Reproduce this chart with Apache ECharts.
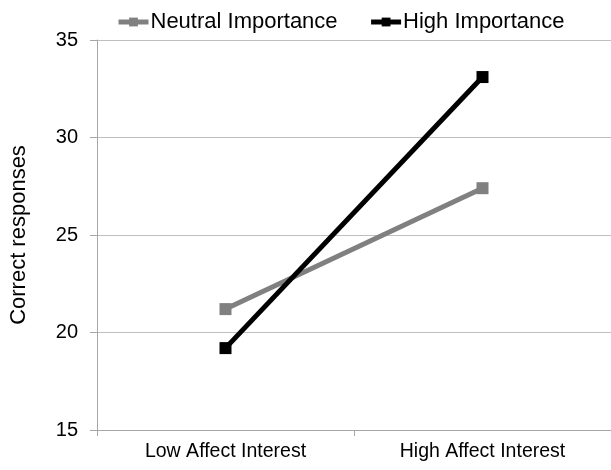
<!DOCTYPE html>
<html><head><meta charset="utf-8">
<script src="https://cdn.jsdelivr.net/npm/echarts@6/dist/echarts.min.js"></script>
<style>html,body{margin:0;padding:0;background:#fff}#c{width:611px;height:470px}</style>
</head><body><div id="c"></div>
<script>
const categories = ["Low Affect Interest", "High Affect Interest"];
const neutralImportance = [21.2, 27.4];
const highImportance = [19.2, 33.1];
const yTicks = [15, 20, 25, 30, 35];

const chart = echarts.init(document.getElementById('c'));
const font = "'Liberation Sans', Arial, sans-serif";
chart.setOption({
  animation: false,
  textStyle: { fontFamily: font },
  legend: {
    top: 6, left: 111,
    itemWidth: 30, itemHeight: 11, itemGap: 31,
    lineStyle: { width: 5 },
    textStyle: { fontSize: 22, color: '#000', fontFamily: font, padding: [0,0,0,-3] },
    data: ['Neutral Importance', 'High Importance']
  },
  grid: { left: 97, right: 0, top: 40, bottom: 40 },
  xAxis: {
    type: 'category', data: categories, boundaryGap: true,
    axisLine: { lineStyle: { color: '#a6a6a6', width: 1 } },
    axisTick: { show: true, length: 6, lineStyle: { color: '#a6a6a6' } },
    axisLabel: { fontSize: 19.5, color: '#000', margin: 12, fontFamily: font }
  },
  yAxis: {
    type: 'value', min: yTicks[0], max: yTicks[yTicks.length-1], interval: 5,
    name: 'Correct responses', nameLocation: 'middle', nameGap: 67,
    nameTextStyle: { fontSize: 22, color: '#000', fontFamily: font },
    axisLine: { show: true, lineStyle: { color: '#a6a6a6' } },
    axisTick: { show: true, length: 7, lineStyle: { color: '#a6a6a6' } },
    axisLabel: { fontSize: 20, color: '#000', margin: 19, fontFamily: font },
    splitLine: { lineStyle: { color: '#bfbfbf', width: 1 } }
  },
  series: [
    { name: 'Neutral Importance', type: 'line', data: neutralImportance,
      symbol: 'rect', symbolSize: 12, lineStyle: { width: 5, color: '#808080' },
      itemStyle: { color: '#808080' } },
    { name: 'High Importance', type: 'line', data: highImportance,
      symbol: 'rect', symbolSize: 12, lineStyle: { width: 5, color: '#000' },
      itemStyle: { color: '#000' } }
  ]
});
</script></body></html>
